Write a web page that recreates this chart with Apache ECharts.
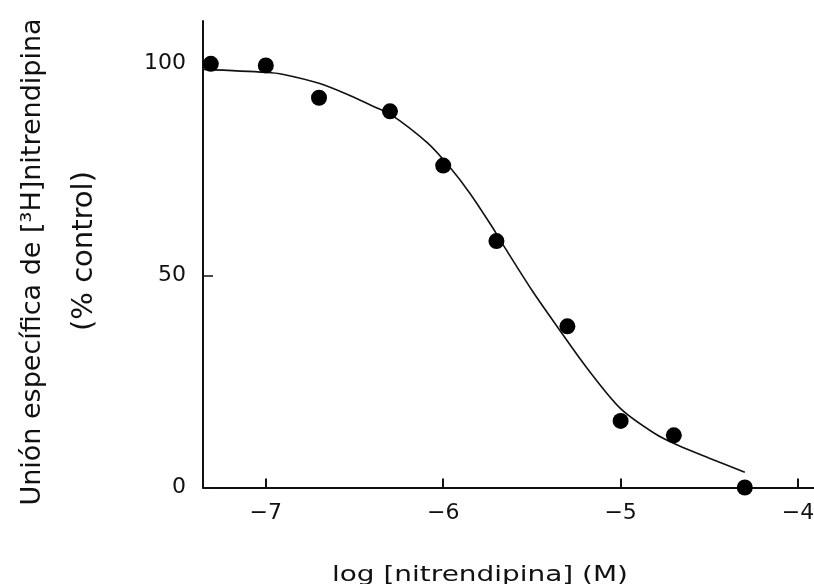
<!DOCTYPE html>
<html>
<head>
<meta charset="utf-8">
<script src="https://cdn.jsdelivr.net/npm/echarts@6/dist/echarts.min.js"></script>
<style>
  html, body { margin: 0; padding: 0; background: #fff; }
  #chart { width: 814px; height: 584px; }
</style>
</head>
<body>
<div id="chart"></div>
<script>
// Measured binding (% of control) at each log concentration of nitrendipine
const logConc = [-7.31, -7.00, -6.70, -6.30, -6.00, -5.70, -5.30, -5.00, -4.70, -4.30];
const binding = [99.9, 99.5, 91.9, 88.7, 75.9, 58.1, 38.0, 15.7, 12.3, 0];

// Fitted displacement curve, sampled along its length
const fitX = [-7.354, -7.00, -6.90, -6.70, -6.53, -6.38, -6.30, -6.09, -5.96, -5.85, -5.72, -5.68, -5.50, -5.36, -5.19, -5.00, -4.81, -4.68, -4.50, -4.30];
const fitY = [98.6, 97.9, 97.4, 95.3, 92.5, 89.6, 88.1, 81.3, 75.4, 69.4, 61.2, 58.4, 46.5, 38.1, 28.2, 18.6, 12.8, 10.0, 6.9, 3.6];

// Axis tick labels
const xTicks = [-7, -6, -5, -4];
const yTicks = [0, 50, 100];

const FONT = 'DejaVu Sans';
const INK = '#111';

const chart = echarts.init(document.getElementById('chart'), null, { renderer: 'canvas' });

chart.setOption({
  animation: false,
  backgroundColor: '#fff',
  grid: { left: 203, right: 0, top: 21, bottom: 96.5, outerBoundsMode: 'none' },
  xAxis: {
    type: 'value',
    min: -7.354,
    max: -3.91,
    axisLine: { show: true, onZero: false, lineStyle: { color: INK, width: 2 } },
    axisTick: { show: true, inside: true, length: 9, customValues: xTicks, lineStyle: { color: INK, width: 2 } },
    axisLabel: {
      customValues: xTicks,
      margin: 15,
      color: INK,
      fontFamily: FONT,
      fontSize: 22,
      formatter: v => String(v).replace('-', '\u2212')
    },
    splitLine: { show: false }
  },
  yAxis: {
    type: 'value',
    min: 0,
    max: 110,
    axisLine: { show: true, lineStyle: { color: INK, width: 2 } },
    axisTick: { show: true, inside: true, length: 10, customValues: yTicks, lineStyle: { color: INK, width: 1.5 } },
    axisLabel: {
      customValues: yTicks,
      margin: 17,
      color: INK,
      fontFamily: FONT,
      fontSize: 22
    },
    splitLine: { show: false }
  },
  graphic: [
    {
      type: 'text',
      x: 480, y: 576,
      scaleX: 1.33,
      style: {
        text: 'log [nitrendipina] (M)',
        x: 0, y: 0,
        align: 'center', verticalAlign: 'middle',
        fontFamily: FONT, fontSize: 21, fill: INK
      }
    },
    {
      type: 'text',
      x: 33, y: 262,
      rotation: Math.PI / 2,
      style: {
        text: 'Unión específica de [³H]nitrendipina',
        x: 0, y: 0,
        align: 'center', verticalAlign: 'middle',
        fontFamily: FONT, fontSize: 27, fill: INK
      }
    },
    {
      type: 'text',
      x: 84, y: 251,
      rotation: Math.PI / 2,
      style: {
        text: '(% control)',
        x: 0, y: 0,
        align: 'center', verticalAlign: 'middle',
        fontFamily: FONT, fontSize: 29, fill: INK
      }
    }
  ],
  series: [
    {
      type: 'line',
      data: fitX.map((x, i) => [x, fitY[i]]),
      smooth: 0.3,
      showSymbol: false,
      silent: true,
      lineStyle: { color: INK, width: 1.6 },
      z: 2
    },
    {
      type: 'scatter',
      data: logConc.map((x, i) => [x, binding[i]]),
      symbol: 'circle',
      symbolSize: 16,
      clip: false,
      itemStyle: { color: '#000', opacity: 1 },
      z: 3
    }
  ]
});
</script>
</body>
</html>
